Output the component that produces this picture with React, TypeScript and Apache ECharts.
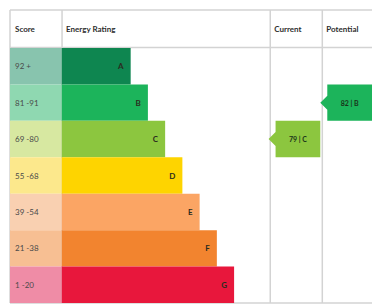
import React, { useEffect, useRef } from "react";
import * as echarts from "echarts";

const scoreBands = ["92 +", "81 -91", "69 -80", "55 -68", "39 -54", "21 -38", "1 -20"];
const ratings = ["A", "B", "C", "D", "E", "F", "G"];
const barLengths = [4, 5, 6, 7, 8, 9, 10];
const scoreColWidth = [3, 3, 3, 3, 3, 3, 3];
const scoreColors = ["#88c4ae", "#8fd8b1", "#d7e8a1", "#fce88c", "#f9d0b1", "#f7bf93", "#ef8ca6"];
const barColors = ["#0e8650", "#1cb45b", "#8cc63f", "#fed400", "#fba564", "#f2842f", "#e8173c"];
const headers = ["Score", "Energy Rating", "Current", "Potential"];
const current = { score: 79, rating: "C" };
const potential = { score: 82, rating: "B" };
const currentCol = [15, 18];
const potentialCol = [18, 21];

const U = 17.35;
const LEFT = 10;
const TOP = 10;
const HEAD_BOTTOM = 48;
const BOTTOM = 303;
const LINE = "#d3d3d3";
const FONT = "Lato, 'Open Sans', sans-serif";

export default function App() {
  const ref = useRef<HTMLDivElement>(null);
  useEffect(() => {
    const chart = echarts.init(ref.current!, null, { renderer: "svg" });
    const idx = (r: string) => ratings.indexOf(r);
    const colX = [LEFT, LEFT + 3 * U, LEFT + currentCol[0] * U, LEFT + potentialCol[0] * U];
    const headerX = [15, colX[1] + 4, colX[2] + 4, colX[3] + 4];
    const graphic: any[] = [
      { type: "line", shape: { x1: LEFT, y1: TOP, x2: 372, y2: TOP }, style: { stroke: LINE, lineWidth: 1.5 } },
      { type: "line", shape: { x1: LEFT, y1: HEAD_BOTTOM - 0.5, x2: 372, y2: HEAD_BOTTOM - 0.5 }, style: { stroke: LINE, lineWidth: 1.5 } },
      { type: "line", shape: { x1: LEFT, y1: BOTTOM, x2: 372, y2: BOTTOM }, style: { stroke: LINE, lineWidth: 1.5 } },
      ...colX.map((x) => ({
        type: "line",
        z: -1,
        shape: { x1: x, y1: TOP, x2: x, y2: BOTTOM },
        style: { stroke: LINE, lineWidth: 1.5 },
      })),
      ...headers.map((h, i) => ({
        type: "text",
        x: headerX[i],
        y: (TOP + HEAD_BOTTOM) / 2,
        style: {
          text: h,
          fill: "#2e2e2e",
          font: `bold 8px ${FONT}`,
          verticalAlign: "middle",
        },
      })),
    ];
    const arrows = [
      [idx(current.rating), currentCol[0], currentCol[1], `${current.score} | ${current.rating}`, barColors[idx(current.rating)]],
      [idx(potential.rating), potentialCol[0], potentialCol[1], `${potential.score} | ${potential.rating}`, barColors[idx(potential.rating)]],
    ];
    chart.setOption({
      animation: false,
      grid: { left: LEFT, top: HEAD_BOTTOM, width: 21 * U, height: BOTTOM - HEAD_BOTTOM },
      xAxis: { type: "value", min: 0, max: 21, show: false },
      yAxis: {
        type: "category",
        inverse: true,
        data: scoreBands,
        axisLine: { show: false },
        axisTick: { show: false },
        splitLine: { show: false },
        axisLabel: {
          inside: true,
          margin: 5,
          align: "left",
          color: "#4a4a4a",
          fontSize: 8,
          fontFamily: FONT,
        },
        z: 10,
      },
      graphic,
      series: [
        {
          type: "bar",
          stack: "a",
          barCategoryGap: 0,
          data: scoreColWidth.map((v, i) => ({ value: v, itemStyle: { color: scoreColors[i] } })),
        },
        {
          type: "bar",
          stack: "a",
          barCategoryGap: 0,
          data: barLengths.map((v, i) => ({ value: v, itemStyle: { color: barColors[i] } })),
          label: {
            show: true,
            position: "insideRight",
            distance: 7,
            formatter: (p: any) => ratings[p.dataIndex],
            color: "#2b2b1e",
            fontSize: 8,
            fontWeight: "bold",
            fontFamily: FONT,
          },
        },
        {
          type: "custom",
          data: arrows,
          encode: { x: [1, 2], y: 0 },
          renderItem: (params: any, api: any) => {
            const row = api.value(0);
            const p0 = api.coord([api.value(1), row]);
            const p1 = api.coord([api.value(2), row]);
            const h = api.size([0, 1])[1];
            const d = arrows[params.dataIndex];
            const yc = p0[1];
            const top = yc - h / 2;
            const bot = yc + h / 2;
            const tip = 7;
            const bx = p0[0] + tip;
            return {
              type: "group",
              children: [
                {
                  type: "polygon",
                  shape: {
                    points: [
                      [p0[0], yc],
                      [bx, yc - tip],
                      [bx, top],
                      [p1[0], top],
                      [p1[0], bot],
                      [bx, bot],
                      [bx, yc + tip],
                    ],
                  },
                  style: { fill: d[4] as string },
                },
                {
                  type: "text",
                  style: {
                    text: d[3] as string,
                    x: (bx + p1[0]) / 2,
                    y: yc,
                    align: "center",
                    verticalAlign: "middle",
                    fill: "#1a331a",
                    font: `bold 7px ${FONT}`,
                  },
                },
              ],
            };
          },
        },
      ],
    });
    return () => chart.dispose();
  }, []);
  return (
    <div
      ref={ref}
      style={{ position: "fixed", left: 0, top: 0, width: 372, height: 304, background: "#fff" }}
    />
  );
}
